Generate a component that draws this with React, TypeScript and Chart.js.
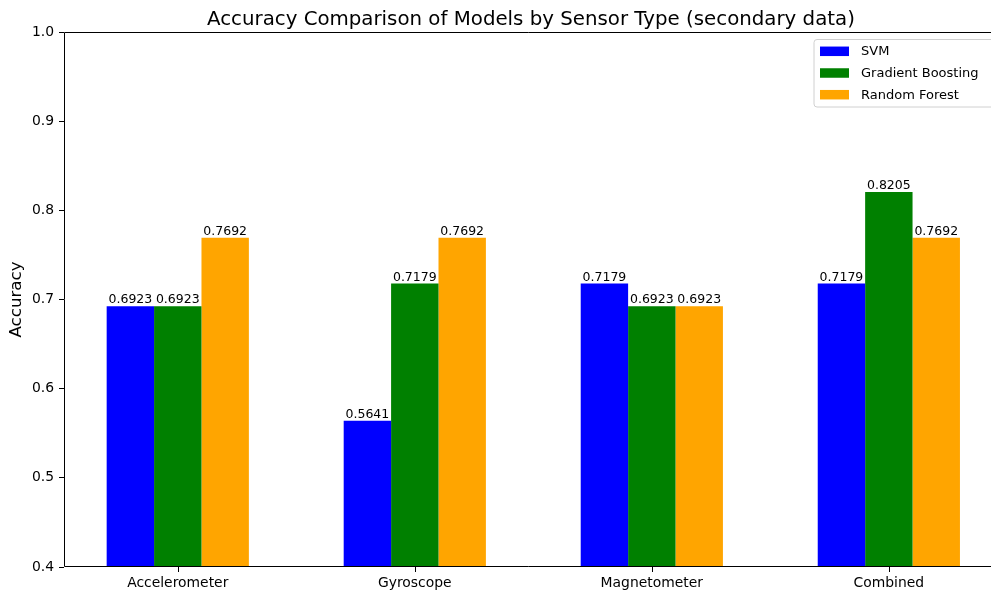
import React, { useEffect, useRef } from "react";
import { Chart, registerables } from "chart.js";

Chart.register(...registerables);

const categories = ["Accelerometer", "Gyroscope", "Magnetometer", "Combined"];
const svmValues = [0.6923, 0.5641, 0.7179, 0.7179];
const gbValues = [0.6923, 0.7179, 0.6923, 0.8205];
const rfValues = [0.7692, 0.7692, 0.6923, 0.7692];
const seriesLabels = ["SVM", "Gradient Boosting", "Random Forest"];
const seriesColors = ["#0000ff", "#008000", "#ffa500"];
const yTicks = [0.4, 0.5, 0.6, 0.7, 0.8, 0.9, 1.0];
const titleText = "Accuracy Comparison of Models by Sensor Type (secondary data)";
const yAxisLabel = "Accuracy";

const FONT = "'DejaVu Sans', sans-serif";

const customPlugin = {
  id: "customDecor",
  afterDraw(chart: any) {
    const ctx = chart.ctx;
    const ca = chart.chartArea;
    const xs = chart.scales.x;
    ctx.save();
    // spines (right spine lies beyond the visible area)
    ctx.strokeStyle = "#000";
    ctx.lineWidth = 1;
    ctx.beginPath();
    ctx.moveTo(ca.right + 20, ca.top + 0.5);
    ctx.lineTo(ca.left + 0.5, ca.top + 0.5);
    ctx.lineTo(ca.left + 0.5, ca.bottom - 0.5);
    ctx.lineTo(ca.right + 20, ca.bottom - 0.5);
    ctx.stroke();

    // x tick marks at category centres
    ctx.beginPath();
    xs.ticks.forEach((t: any) => {
      const px = Math.round(xs.getPixelForValue(t.value)) + 0.5;
      ctx.moveTo(px, ca.bottom);
      ctx.lineTo(px, ca.bottom + 5);
    });
    ctx.stroke();

    // title centred on the full plot width
    ctx.fillStyle = "#000";
    ctx.font = `19.8px ${FONT}`;
    ctx.textAlign = "center";
    ctx.textBaseline = "alphabetic";
    ctx.fillText(titleText, xs.getPixelForValue(1.49), 24.5);

    // y label
    ctx.save();
    ctx.translate(21, (ca.top + ca.bottom) / 2);
    ctx.rotate(-Math.PI / 2);
    ctx.font = `16.7px ${FONT}`;
    ctx.textAlign = "center";
    ctx.textBaseline = "alphabetic";
    ctx.fillText(yAxisLabel, 0, 0);
    ctx.restore();

    // value labels
    ctx.font = `12.5px ${FONT}`;
    ctx.textAlign = "center";
    ctx.textBaseline = "alphabetic";
    chart.data.datasets.forEach((ds: any, di: number) => {
      const meta = chart.getDatasetMeta(di);
      meta.data.forEach((bar: any, i: number) => {
        ctx.fillText(Number(ds.data[i].y).toFixed(4), bar.x, bar.y - 3);
      });
    });

    // legend
    const bx = 814, by = 39.5, bw = 184, bh = 67.5, r = 3;
    ctx.beginPath();
    ctx.moveTo(bx + r, by);
    ctx.lineTo(bx + bw - r, by);
    ctx.arcTo(bx + bw, by, bx + bw, by + r, r);
    ctx.lineTo(bx + bw, by + bh - r);
    ctx.arcTo(bx + bw, by + bh, bx + bw - r, by + bh, r);
    ctx.lineTo(bx + r, by + bh);
    ctx.arcTo(bx, by + bh, bx, by + bh - r, r);
    ctx.lineTo(bx, by + r);
    ctx.arcTo(bx, by, bx + r, by, r);
    ctx.closePath();
    ctx.fillStyle = "rgba(255,255,255,0.8)";
    ctx.fill();
    ctx.strokeStyle = "#d0d0d0";
    ctx.stroke();
    ctx.font = `13px ${FONT}`;
    ctx.textAlign = "left";
    ctx.textBaseline = "middle";
    chart.data.datasets.forEach((ds: any, di: number) => {
      const cy = 51.3 + di * 21.7;
      ctx.fillStyle = ds.backgroundColor;
      ctx.fillRect(820, cy - 4.75, 29, 9.5);
      ctx.fillStyle = "#000";
      ctx.fillText(ds.label, 861, cy + 0.5);
    });
    ctx.restore();
  },
};

export default function App() {
  const ref = useRef<HTMLCanvasElement | null>(null);
  useEffect(() => {
    if (!ref.current) return;
    const values = [svmValues, gbValues, rfValues];
    const chart = new Chart(ref.current, {
      type: "bar",
      data: {
        datasets: values.map((v, i) => ({
          label: seriesLabels[i],
          data: categories.map((_, ci) => ({ x: ci, y: v[ci] })),
          backgroundColor: seriesColors[i],
          borderWidth: 0,
          categoryPercentage: 0.6,
          barPercentage: 1.0,
        })),
      },
      options: {
        responsive: false,
        animation: false,
        layout: { padding: { left: 0, top: 32, right: 0, bottom: 0 } },
        plugins: {
          legend: { display: false },
          title: { display: false },
          tooltip: { enabled: false },
        },
        scales: {
          x: {
            type: "linear",
            min: -0.48,
            max: 3.431,
            offset: false,
            grid: {
              display: false,
              drawTicks: false,
            },
            border: { display: false },
            afterBuildTicks: (s: any) => {
              s.ticks = categories.map((_, i) => ({ value: i }));
            },
            ticks: {
              color: "#000",
              font: { family: FONT, size: 13.9 },
              padding: 8,
              maxRotation: 0,
              autoSkip: false,
              callback: (v: any) => categories[Math.round(Number(v))] ?? "",
            },
            afterFit: (s: any) => {
              s.height = 27;
            },
          },
          y: {
            min: 0.4,
            max: 1.0,
            grid: {
              offset: false,
              drawOnChartArea: false,
              drawTicks: true,
              tickLength: 5,
              color: "#000",
            },
            border: { display: false },
            afterBuildTicks: (s: any) => {
              s.ticks = yTicks.map((v) => ({ value: v }));
            },
            ticks: {
              color: "#000",
              font: { family: FONT, size: 13.9 },
              padding: 5,
              callback: (v: any) => Number(v).toFixed(1),
            },
            afterFit: (s: any) => {
              s.width = 64;
            },
          },
        },
      },
      plugins: [customPlugin],
    });
    return () => chart.destroy();
  }, []);
  return (
    <div style={{ position: "absolute", left: 0, top: 0, width: 991, height: 594, overflow: "hidden", background: "#fff" }}>
      <canvas ref={ref} width={991} height={594} style={{ width: 991, height: 594, display: "block" }} />
    </div>
  );
}
